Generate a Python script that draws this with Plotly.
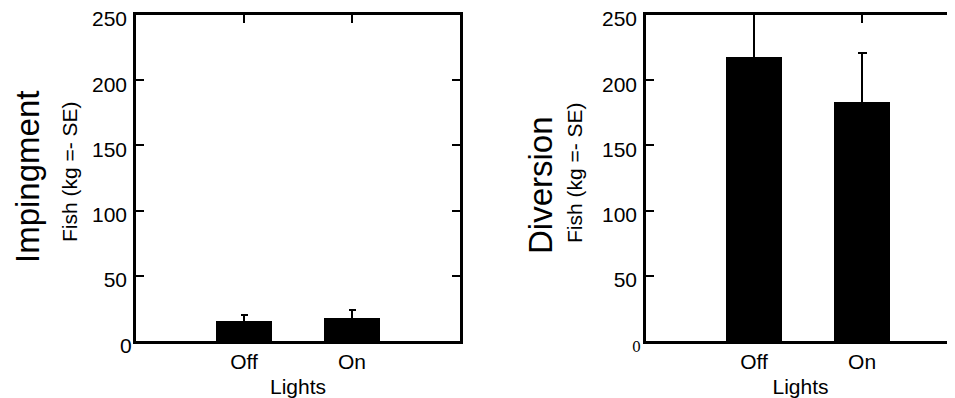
import plotly.graph_objects as go

categories = ["Off", "On"]
impingement = [15, 18]
impingement_se = [5, 6]
diversion = [218, 183]
diversion_se = [36, 38]
y_ticks = [50, 100, 150, 200, 250]

# page has an 8px body margin; figure sized to fill the rest of the window
OFF = 8
W, H = 955 - OFF, 398 - OFF
FONT = "Liberation Sans, Arial, sans-serif"

fig = go.Figure()
fig.add_trace(go.Bar(x=categories, y=impingement, width=0.52,
                     marker=dict(color="black", line=dict(width=0)),
                     error_y=dict(type="data", array=impingement_se, visible=True,
                                  color="black", thickness=2, width=3.5),
                     xaxis="x", yaxis="y", showlegend=False))
fig.add_trace(go.Bar(x=categories, y=diversion, width=0.52,
                     marker=dict(color="black", line=dict(width=0)),
                     error_y=dict(type="data", array=diversion_se, visible=True,
                                  color="black", thickness=2, width=4.5),
                     xaxis="x2", yaxis="y2", showlegend=False))

def px_x(p):
    return (p - OFF) / W

def px_y(p):
    return 1 - (p - OFF) / H

ydom = [px_y(341), px_y(15)]

xcommon = dict(type="category", categoryorder="array", categoryarray=categories,
               showline=True, linecolor="black", linewidth=2.5, mirror="ticks",
               ticks="inside", ticklen=8, tickwidth=2, tickcolor="black",
               tickfont=dict(family=FONT, size=21, color="black"),
               ticklabelstandoff=0, showgrid=False, zeroline=False,
               automargin=False, fixedrange=True,
               title=dict(text="Lights", font=dict(family=FONT, size=21, color="black"),
                          standoff=8))
ycommon = dict(range=[0, 250], tickmode="array", tickvals=y_ticks,
               ticktext=[str(v) for v in y_ticks],
               showline=True, linecolor="black", linewidth=2.5, mirror="ticks",
               ticks="inside", ticklen=8, tickwidth=2, tickcolor="black",
               tickfont=dict(family=FONT, size=21, color="black"),
               ticklabelstandoff=2, ticklabeloverflow="allow", ticklabelshift=4,
               showgrid=False, zeroline=False,
               automargin=False, fixedrange=True, domain=ydom)

fig.update_layout(
    width=W, height=H, margin=dict(l=0, r=0, t=0, b=0),
    paper_bgcolor="white", plot_bgcolor="white",
    xaxis=dict(xcommon, domain=[px_x(136), px_x(460)], range=[-1, 2], anchor="y"),
    yaxis=dict(ycommon, anchor="x"),
    xaxis2=dict(xcommon, domain=[px_x(646), 1.0], range=[-1, 1.86], anchor="y2"),
    yaxis2=dict(ycommon, anchor="x2"),
    bargap=0,
)

ann = []
# zero labels
ann.append(dict(text="0", x=px_x(126), y=px_y(345), xref="paper", yref="paper",
                xanchor="center", yanchor="middle",
                showarrow=False, font=dict(family=FONT, size=21, color="black")))
ann.append(dict(text="0", x=px_x(636), y=px_y(347), xref="paper", yref="paper",
                xanchor="center", yanchor="middle",
                showarrow=False, font=dict(family="DejaVu Serif, serif", size=14, color="black")))
# y titles
for big, bsize, cx_big, cy_big, cx_small, cy_small in [
        ("Impingment", 33, 27, 177, 69, 172),
        ("Diversion", 33, 541, 185, 574, 173)]:
    ann.append(dict(text=big, x=px_x(cx_big), y=px_y(cy_big), xref="paper", yref="paper",
                    xanchor="center", yanchor="middle",
                    showarrow=False, textangle=-90,
                    font=dict(family=FONT, size=bsize, color="black")))
    ann.append(dict(text="Fish (kg =- SE)", x=px_x(cx_small), y=px_y(cy_small),
                    xref="paper", yref="paper", xanchor="center", yanchor="middle",
                    showarrow=False, textangle=-90,
                    font=dict(family=FONT, size=21, color="black")))
fig.update_layout(annotations=ann)

fig.write_html("out.html")
